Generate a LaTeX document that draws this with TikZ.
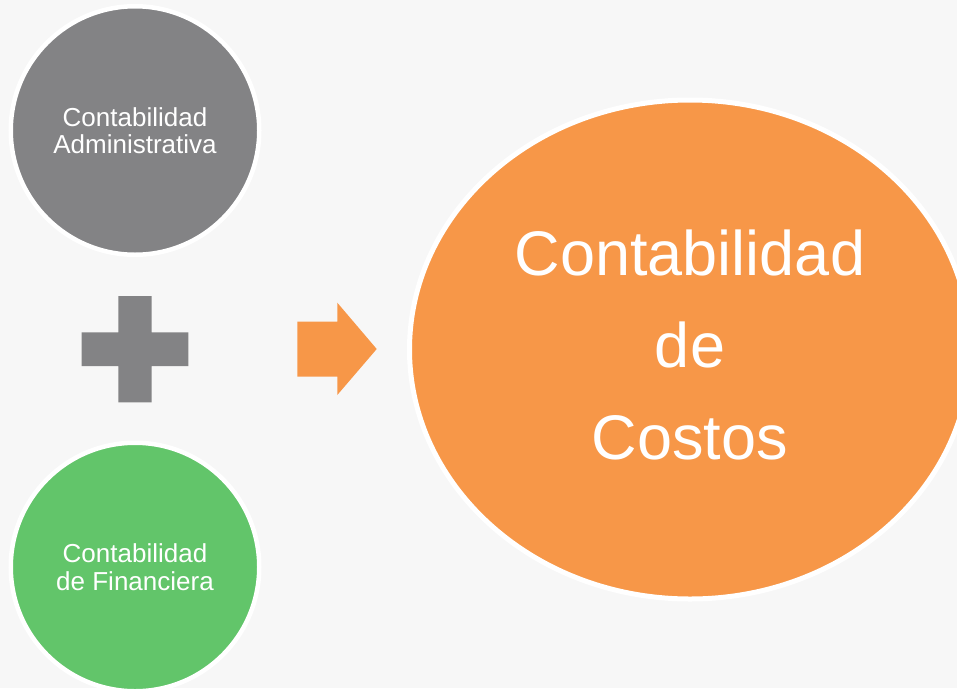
\documentclass[tikz,border=0pt]{standalone}
\usepackage{fontspec}
\setmainfont{Liberation Sans}
\usetikzlibrary{shapes.geometric}
\definecolor{bgcol}{RGB}{247,247,247}
\definecolor{graycol}{RGB}{131,131,133}
\definecolor{greencol}{RGB}{98,197,106}
\definecolor{orangecol}{RGB}{247,151,72}
\tikzset{
  smallcircle/.style={circle, draw=white, line width=4.5pt, inner sep=0pt,
    minimum size=248.5pt, text=white, align=center,
    font=\fontsize{26}{27.5}\selectfont},
  bigellipse/.style={ellipse, draw=white, line width=5pt, inner sep=0pt,
    minimum width=561pt, minimum height=499pt, fill=orangecol, text=white,
    align=center, text depth=9pt, font=\fontsize{63}{92}\selectfont},
  plusshape/.style={fill=graycol},
  arrowshape/.style={fill=orangecol}
}
\begin{document}
\begin{tikzpicture}[x=1pt, y=-1pt]
  \fill[bgcol] (0,0) rectangle (957,688);
  \useasboundingbox (0,0) rectangle (957,688);
  \clip (0,0) rectangle (957,688);
  % circles
  \node[smallcircle, fill=graycol] (admin) at (135,130.5) {Contabilidad\\Administrativa};
  \node[smallcircle, fill=greencol] (fin) at (135,567) {Contabilidad\\de Financiera};
  % plus sign
  \fill[plusshape] (81.7,332.3) -- (118.3,332.3) -- (118.3,296) -- (151.7,296)
    -- (151.7,332.3) -- (188.3,332.3) -- (188.3,366) -- (151.7,366)
    -- (151.7,402.3) -- (118.3,402.3) -- (118.3,366) -- (81.7,366) -- cycle;
  % arrow
  \fill[arrowshape] (297.3,321.7) -- (337.3,321.7) -- (337.3,302.7) -- (376.7,349)
    -- (337.3,395) -- (337.3,376.7) -- (297.3,376.7) -- cycle;
  % big ellipse
  \node[bigellipse] (costos) at (690,349.5) {Contabilidad\\de\\Costos};
\end{tikzpicture}
\end{document}
